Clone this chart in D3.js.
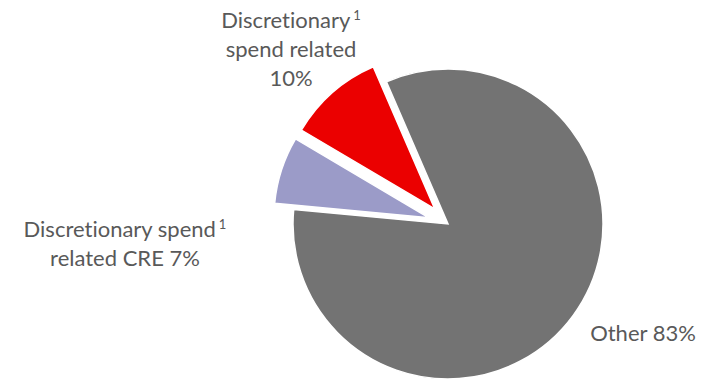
<!DOCTYPE html>
<html>
<head>
<meta charset="utf-8">
<script src="https://cdn.jsdelivr.net/npm/d3@7"></script>
<style>
  html, body { margin: 0; padding: 0; background: #fff; }
  svg { display: block; }
  text { font-variant-ligatures: none; font-feature-settings: "liga" 0; }
</style>
</head>
<body>
<svg id="chart" width="715" height="380"></svg>
<script>
const categories = ["Other", "Discretionary spend related CRE", "Discretionary spend related"];
const values = [83, 7, 10];
const colors = ["#737373", "#9b9bc8", "#eb0000"];
const exploded = [false, true, true];
const labelLines = [
  [["Other 83%", ""]],
  [["Discretionary spend", "1"], ["related CRE 7%", ""]],
  [["Discretionary", "1"], ["spend related", ""], ["10%", ""]]
];

const svg = d3.select("#chart");
const cx = 448, cy = 224, radius = 155, explode = 20;
const startDeg = -23.4;

const pie = d3.pie().sort(null).value(d => d)
  .startAngle(startDeg * Math.PI / 180)
  .endAngle(startDeg * Math.PI / 180 + 2 * Math.PI);
const arcs = pie(values);
const arc = d3.arc().innerRadius(0).outerRadius(radius);

const g = svg.append("g").attr("transform", `translate(${cx},${cy})`);
g.selectAll("path").data(arcs).join("path")
  .attr("d", arc)
  .attr("fill", (d, i) => colors[i])
  .attr("stroke", "#fff")
  .attr("stroke-width", 1.5)
  .attr("stroke-linejoin", "miter")
  .attr("transform", (d, i) => {
    if (!exploded[i]) return null;
    const a = (d.startAngle + d.endAngle) / 2;
    return `translate(${Math.sin(a) * explode},${-Math.cos(a) * explode})`;
  });

const labelPos = [
  {x: 643, y: 341},
  {x: 125, y: 237},
  {x: 291, y: 28}
];
const lineH = 29;
const fontFamily = "'Source Sans Pro', Lato, 'Noto Sans', sans-serif";

labelLines.forEach((lines, i) => {
  const p = labelPos[i];
  lines.forEach((ln, j) => {
    const row = svg.append("text")
      .attr("font-family", fontFamily)
      .attr("font-size", 22)
      .attr("fill", "#595959")
      .attr("text-anchor", "middle")
      .attr("x", p.x)
      .attr("y", p.y + j * lineH);
    row.append("tspan").text(ln[0]);
    if (ln[1]) {
      row.append("tspan").attr("font-size", 13).attr("dx", 3).attr("dy", -8).text(ln[1]);
    }
  });
});
</script>
</body>
</html>
